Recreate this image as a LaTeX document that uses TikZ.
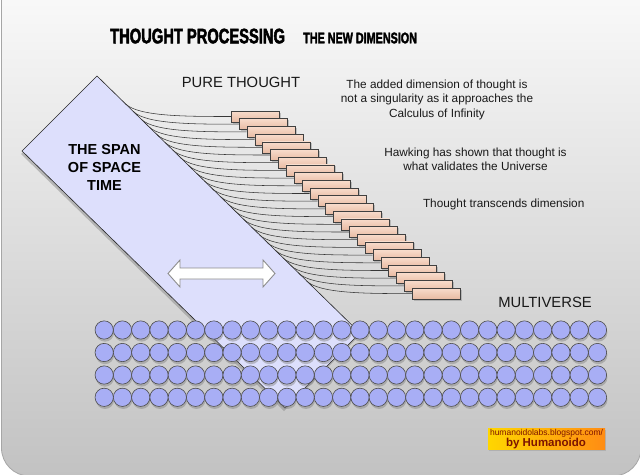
\documentclass[tikz,border=0pt]{standalone}
\usepackage{fontspec}
\setmainfont{Liberation Sans}
\newfontfamily\impactfont[FakeStretch=0.70,FakeBold=2.2]{Liberation Sans}
\usetikzlibrary{shadows,calc}
\definecolor{bandfill}{RGB}{221,223,252}
\definecolor{circfill}{RGB}{168,174,245}
\definecolor{boxtop}{RGB}{248,220,204}
\definecolor{boxbot}{RGB}{232,186,162}
\definecolor{strandcol}{RGB}{55,55,55}
\definecolor{bggray}{RGB}{194,194,194}
\definecolor{wmtext}{RGB}{125,20,0}
\definecolor{wmyellow}{RGB}{255,214,0}
\definecolor{wmorange}{RGB}{255,140,20}
\tikzset{
  bandstyle/.style={fill=bandfill,draw=black!85,line width=0.6pt,
    drop shadow={opacity=0.45,shadow xshift=-1pt,shadow yshift=-3pt}},
  tbox/.style={rectangle,minimum width=48pt,minimum height=11pt,inner sep=0pt,
    draw=black!75,line width=0.6pt,top color=boxtop,bottom color=boxbot,
    drop shadow={opacity=0.4,shadow xshift=1.5pt,shadow yshift=-1.5pt}},
  strandline/.style={draw=strandcol,line width=0.55pt},
  mcirc/.style={circle,minimum size=18.3pt,inner sep=0pt,draw=black!70,
    line width=0.6pt,fill=circfill,
    drop shadow={opacity=0.45,shadow xshift=0.8pt,shadow yshift=-2.5pt}},
  dblarrow/.style={fill=white,draw=black!45,line width=0.9pt,line join=miter},
  txt/.style={inner sep=0pt,anchor=base,font=\fontsize{11.8}{14}\selectfont,text=black!90},
  bigtxt/.style={inner sep=0pt,anchor=base,font=\fontsize{14.8}{16}\selectfont,text=black!90},
  spantxt/.style={inner sep=0pt,anchor=base,font=\bfseries\fontsize{14.5}{16}\selectfont},
}
\begin{document}
\begin{tikzpicture}[x=1pt,y=-1pt]
\useasboundingbox (0,0) rectangle (640,474);
% background slide
\fill[white] (0,0) rectangle (640,474);
\path[top color=white,bottom color=bggray,draw=black!35,line width=0.8pt,rounded corners=28pt]
  (1.5,-60) rectangle (641,476);
% the span of space time
\path[bandstyle] (97,76) -- (360,333) -- (285,408) -- (22,151) -- cycle;
\node[spantxt] (span1) at (104.5,154.5) {THE SPAN};
\node[spantxt] (span2) at (104.5,172.5) {OF SPACE};
\node[spantxt] (span3) at (104.5,190.5) {TIME};
% double arrow
\path[dblarrow] (168,273.5) -- (180,260) -- (180,268) -- (263,268) -- (263,260)
  -- (275,273.5) -- (263,287) -- (263,279) -- (180,279) -- (180,287) -- cycle;
% strands
\foreach \i in {0,...,23}{
  \pgfmathsetmacro{\ex}{231+7.87*\i}
  \pgfmathsetmacro{\ey}{116.5+7.7*\i}
  \pgfmathsetmacro{\px}{\ex-92.5}
  \coordinate (e\i) at (\ex,\ey);
  \coordinate (p\i) at (\px,\ey);
  \coordinate (s\i) at (\px-12.9,\ey-12.6);
  \draw[strandline] (s\i) .. controls (p\i) and ($(e\i)+(-45,0)$) .. (e\i);
}
% boxes
\foreach \i in {0,...,23}{
  \node[tbox,anchor=west] (b\i) at (e\i) {};
}
% multiverse circles
\foreach \r/\cy in {0/330,1/352.5,2/375,3/397.3}{
  \foreach \k in {0,...,27}{
    \node[mcirc] (c\r-\k) at ({104.2+18.27*\k},\cy) {};
  }
}
% titles
\node[inner sep=0pt,anchor=base west,font=\impactfont\bfseries\fontsize{21}{21}\selectfont] (title) at (110,43.3) {THOUGHT PROCESSING};
\node[inner sep=0pt,anchor=base west,font=\impactfont\bfseries\fontsize{15.4}{16}\selectfont] (subtitle) at (303,43.3) {THE NEW DIMENSION};
\node[bigtxt] (pure) at (241,87) {PURE THOUGHT};
\node[bigtxt] (multi) at (545,307) {MULTIVERSE};
% paragraphs
\node[txt] (ta1) at (437,88) {The added dimension of thought is};
\node[txt] (ta2) at (437,102.5) {not a singularity as it approaches the};
\node[txt] (ta3) at (437,117) {Calculus of Infinity};
\node[txt] (tb1) at (475.5,156) {Hawking has shown that thought is};
\node[txt] (tb2) at (475.5,170.5) {what validates the Universe};
\node[txt] (tc1) at (503.7,207.5) {Thought transcends dimension};
% watermark
\path[left color=wmyellow,right color=wmorange,
  drop shadow={opacity=0.3,shadow xshift=1pt,shadow yshift=-1.5pt}] (488,428) rectangle (605,449);
\node[inner sep=0pt,anchor=base,text=wmtext,font=\fontsize{8.5}{9}\selectfont] (wm1) at (546.5,435) {humanoidolabs.blogspot.com/};
\node[inner sep=0pt,anchor=base,text=wmtext,font=\bfseries\fontsize{11.5}{12}\selectfont] (wm2) at (546,446.5) {by Humanoido};
\end{tikzpicture}
\end{document}
